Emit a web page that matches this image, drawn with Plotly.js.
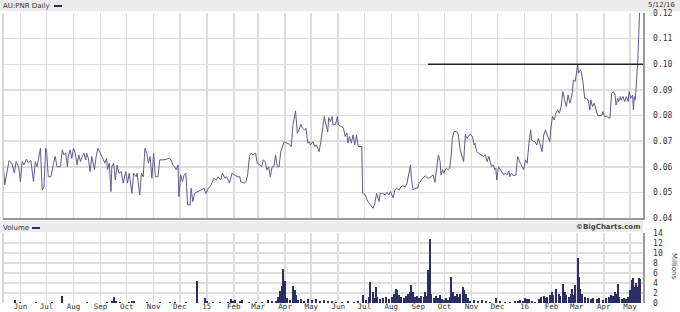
<!DOCTYPE html>
<html>
<head>
<meta charset="utf-8">
<script src="https://cdn.plot.ly/plotly-3.0.1.min.js"></script>
<style>
html,body{margin:0;padding:0;background:#fff;}
#chart{width:680px;height:312px;}
</style>
</head>
<body>
<div id="chart"></div>
<script>
// ---------------- DATA ----------------
const symbolTitle = "AU:PNR Daily";
const lastDateLabel = "5/12/16";
const volumeTitle = "Volume";
const creditText = "\u00A9BigCharts.com";
const volumeUnit = "Millions";

const priceDates = [
"2014-05-12","2014-05-14","2014-05-17","2014-05-19","2014-05-22","2014-05-25","2014-05-27","2014-05-30",
"2014-06-01","2014-06-03","2014-06-05","2014-06-08","2014-06-10","2014-06-13","2014-06-16","2014-06-18","2014-06-20","2014-06-24","2014-06-26","2014-06-28","2014-06-30",
"2014-07-01","2014-07-03","2014-07-06","2014-07-09","2014-07-11","2014-07-13","2014-07-15","2014-07-17","2014-07-19","2014-07-21","2014-07-23","2014-07-25","2014-07-26","2014-07-28","2014-07-30",
"2014-08-01","2014-08-03","2014-08-05","2014-08-07","2014-08-09","2014-08-11","2014-08-13","2014-08-15","2014-08-16","2014-08-18","2014-08-20","2014-08-22","2014-08-25","2014-08-27","2014-08-29","2014-08-31",
"2014-09-02","2014-09-04","2014-09-06","2014-09-08","2014-09-09","2014-09-11","2014-09-13","2014-09-14","2014-09-16","2014-09-18","2014-09-20","2014-09-22","2014-09-25","2014-09-27","2014-09-30",
"2014-10-02","2014-10-04","2014-10-07","2014-10-09","2014-10-12","2014-10-13","2014-10-16","2014-10-18","2014-10-20","2014-10-22","2014-10-24","2014-10-26","2014-10-28","2014-10-30",
"2014-11-01","2014-11-03","2014-11-06","2014-11-08","2014-11-13","2014-11-19","2014-11-21","2014-11-23","2014-11-25","2014-11-27","2014-11-29","2014-11-30",
"2014-12-02","2014-12-04","2014-12-06","2014-12-08","2014-12-10","2014-12-13","2014-12-14","2014-12-16","2014-12-18","2014-12-22","2014-12-25","2014-12-29","2014-12-31",
"2015-01-03","2015-01-06","2015-01-09","2015-01-12","2015-01-14","2015-01-17","2015-01-19","2015-01-22","2015-01-24","2015-01-27","2015-01-30",
"2015-02-02","2015-02-05","2015-02-08","2015-02-09","2015-02-13","2015-02-15","2015-02-17","2015-02-19","2015-02-21","2015-02-23","2015-02-26","2015-02-28",
"2015-03-03","2015-03-05","2015-03-07","2015-03-09","2015-03-11","2015-03-13","2015-03-15","2015-03-17","2015-03-19","2015-03-21","2015-03-23","2015-03-25","2015-03-27","2015-03-29","2015-03-31",
"2015-04-03","2015-04-06","2015-04-08","2015-04-10","2015-04-13","2015-04-15","2015-04-17","2015-04-19","2015-04-21","2015-04-23","2015-04-25","2015-04-27","2015-04-29","2015-04-30",
"2015-05-03","2015-05-05","2015-05-07","2015-05-09","2015-05-10","2015-05-12","2015-05-14","2015-05-16","2015-05-18","2015-05-20","2015-05-21","2015-05-23","2015-05-25","2015-05-26","2015-05-29","2015-05-31",
"2015-06-01","2015-06-03","2015-06-05","2015-06-07","2015-06-09","2015-06-11","2015-06-12","2015-06-14","2015-06-16","2015-06-18","2015-06-20","2015-06-22","2015-06-24","2015-06-26","2015-06-28","2015-06-29",
"2015-07-02","2015-07-05","2015-07-08","2015-07-11","2015-07-13","2015-07-15","2015-07-18","2015-07-19","2015-07-22","2015-07-25","2015-07-27","2015-07-29","2015-07-31",
"2015-08-03","2015-08-05","2015-08-07","2015-08-10","2015-08-12","2015-08-14","2015-08-17","2015-08-19","2015-08-21","2015-08-23","2015-08-24","2015-08-26","2015-08-28","2015-08-31",
"2015-09-02","2015-09-04","2015-09-06","2015-09-09","2015-09-11","2015-09-13","2015-09-16","2015-09-18","2015-09-20","2015-09-22","2015-09-24","2015-09-26","2015-09-27","2015-09-29","2015-09-30",
"2015-10-03","2015-10-05","2015-10-07","2015-10-09","2015-10-10","2015-10-12","2015-10-15","2015-10-17","2015-10-19","2015-10-21","2015-10-23","2015-10-25","2015-10-27","2015-10-29","2015-10-31",
"2015-11-02","2015-11-04","2015-11-05","2015-11-07","2015-11-09","2015-11-12","2015-11-15","2015-11-17","2015-11-19","2015-11-21","2015-11-23","2015-11-24","2015-11-26","2015-11-28","2015-11-29","2015-11-30",
"2015-12-02","2015-12-04","2015-12-06","2015-12-08","2015-12-10","2015-12-12","2015-12-14","2015-12-15","2015-12-17","2015-12-19","2015-12-22","2015-12-24","2015-12-27","2015-12-29","2015-12-31",
"2016-01-02","2016-01-04","2016-01-06","2016-01-08","2016-01-09","2016-01-11","2016-01-13","2016-01-15","2016-01-17","2016-01-19","2016-01-21","2016-01-23","2016-01-25","2016-01-27","2016-01-29","2016-01-30","2016-01-31",
"2016-02-02","2016-02-04","2016-02-06","2016-02-08","2016-02-10","2016-02-12","2016-02-14","2016-02-16","2016-02-18","2016-02-20","2016-02-22","2016-02-23","2016-02-25","2016-02-26","2016-02-28","2016-02-29",
"2016-03-02","2016-03-03","2016-03-05","2016-03-06","2016-03-08","2016-03-10","2016-03-12","2016-03-14","2016-03-16","2016-03-17","2016-03-19","2016-03-21","2016-03-23","2016-03-25","2016-03-28","2016-03-30","2016-03-31",
"2016-04-02","2016-04-04","2016-04-07","2016-04-08","2016-04-10","2016-04-12","2016-04-14","2016-04-15","2016-04-17","2016-04-18","2016-04-20","2016-04-21","2016-04-23","2016-04-25","2016-04-27","2016-04-29","2016-04-30",
"2016-05-02","2016-05-04","2016-05-05","2016-05-06","2016-05-07","2016-05-08","2016-05-09","2016-05-10","2016-05-11","2016-05-12"
];
const priceValues = [
0.062,0.0529,0.0588,0.0624,0.0615,0.0576,0.062,0.060,
0.0542,0.062,0.0607,0.063,0.0615,0.0624,0.0542,0.062,0.060,0.0672,0.0509,0.0522,0.0672,
0.0666,0.0561,0.0561,0.0614,0.064,0.060,0.060,0.060,0.0666,0.0646,0.0653,0.060,0.064,0.0666,0.0633,
0.0672,0.0653,0.0607,0.0646,0.062,0.064,0.0653,0.0627,0.0653,0.0633,0.0581,0.064,0.0588,0.064,0.0672,0.0659,
0.0646,0.0627,0.0614,0.0633,0.0588,0.0614,0.0503,0.060,0.0614,0.0548,0.0607,0.0575,0.0581,0.0536,0.0581,
0.0536,0.0575,0.0496,0.0575,0.0561,0.0575,0.049,0.0575,0.0561,0.0672,0.0653,0.0614,0.064,0.0555,
0.0653,0.0561,0.0561,0.0627,0.0627,0.0633,0.0627,0.0607,0.060,0.0588,0.0607,0.0483,
0.0568,0.0542,0.0568,0.0575,0.0451,0.0451,0.0516,0.0464,0.0496,0.0503,0.0509,0.0516,0.0496,
0.0516,0.0529,0.0555,0.0548,0.0561,0.0548,0.0575,0.0555,0.0561,0.0536,0.0575,
0.0568,0.0561,0.0561,0.0542,0.0536,0.0542,0.0568,0.064,0.0653,0.0646,0.0653,0.0614,
0.0607,0.060,0.0627,0.062,0.0588,0.060,0.0561,0.060,0.060,0.0646,0.060,0.060,0.0659,0.0679,0.0698,
0.0692,0.0688,0.0679,0.0763,0.0818,0.0731,0.0744,0.0766,0.075,0.0744,0.075,0.0692,0.0698,0.0685,
0.0698,0.0679,0.0685,0.0666,0.0659,0.0698,0.075,0.0796,0.0763,0.0737,0.0792,0.0776,0.0796,0.0763,0.0766,0.0796,
0.0763,0.0761,0.0757,0.075,0.0718,0.0731,0.0692,0.0718,0.0692,0.0724,0.0685,0.0724,0.0679,0.0679,0.0679,0.0496,
0.049,0.0464,0.0451,0.0438,0.0457,0.0496,0.0464,0.0496,0.0496,0.049,0.050,0.049,0.0503,
0.0479,0.0509,0.0516,0.0509,0.0522,0.0526,0.0522,0.0536,0.0568,0.0607,0.0555,0.0509,0.0516,0.0516,
0.0536,0.0548,0.0555,0.0565,0.0557,0.0555,0.0561,0.0568,0.0539,0.0594,0.0646,0.062,0.0568,0.0588,0.0575,
0.0594,0.0588,0.0594,0.0653,0.0711,0.0737,0.0737,0.0724,0.0666,0.0646,0.062,0.0727,0.0711,0.0722,0.0727,
0.0718,0.0685,0.0692,0.0659,0.0653,0.0646,0.064,0.0646,0.062,0.064,0.0607,0.060,0.0607,0.0588,0.0594,0.0548,
0.060,0.0588,0.0581,0.0568,0.0575,0.0568,0.0584,0.0561,0.0575,0.0565,0.0568,0.064,0.0614,0.060,0.0588,
0.0627,0.0614,0.0692,0.0744,0.0705,0.0698,0.0698,0.0685,0.0711,0.0685,0.0659,0.0724,0.0744,0.0724,0.0705,0.0698,0.0744,
0.0796,0.0783,0.0809,0.0822,0.0809,0.0835,0.0893,0.0861,0.0835,0.088,0.0848,0.0861,0.0893,0.0939,0.0932,0.0952,
0.0998,0.0965,0.0978,0.0972,0.0932,0.0867,0.0867,0.0861,0.0822,0.0861,0.0835,0.0848,0.0822,0.080,0.080,0.0802,0.0815,
0.0796,0.0796,0.0789,0.0789,0.0887,0.0893,0.088,0.0841,0.0867,0.0854,0.0874,0.0861,0.0874,0.0854,0.0874,0.0854,0.0893,
0.0867,0.088,0.0822,0.0874,0.0861,0.090,0.0952,0.1016,0.1107,0.12
];

const volDates = [
"2014-05-26","2014-05-31","2014-06-19","2014-07-07","2014-07-19","2014-07-30","2014-08-16","2014-09-08","2014-09-14","2014-09-17","2014-09-19","2014-09-23",
"2014-10-04","2014-10-07","2014-10-10","2014-10-24","2014-11-08","2014-11-20","2014-11-26","2014-12-08","2014-12-21","2014-12-30",
"2015-01-01","2015-01-08","2015-01-16","2015-01-25","2015-01-29","2015-01-31","2015-02-03","2015-02-08","2015-02-11","2015-02-19","2015-02-26",
"2015-03-05","2015-03-12","2015-03-17","2015-03-21","2015-03-24","2015-03-26","2015-03-28","2015-03-30","2015-04-01","2015-04-03","2015-04-07","2015-04-10","2015-04-12","2015-04-14","2015-04-16","2015-04-19","2015-04-23","2015-04-27",
"2015-05-02","2015-05-07","2015-05-11","2015-05-16","2015-05-20","2015-05-25","2015-05-29","2015-06-05","2015-06-12","2015-06-19","2015-06-24","2015-06-29",
"2015-07-03","2015-07-06","2015-07-08","2015-07-11","2015-07-13","2015-07-14","2015-07-16","2015-07-19","2015-07-22","2015-07-26","2015-07-29",
"2015-08-02","2015-08-04","2015-08-06","2015-08-08","2015-08-10","2015-08-12","2015-08-16","2015-08-18","2015-08-20","2015-08-22","2015-08-24","2015-08-26","2015-08-28","2015-08-31",
"2015-09-02","2015-09-04","2015-09-07","2015-09-09","2015-09-10","2015-09-12","2015-09-14","2015-09-16","2015-09-19","2015-09-21","2015-09-24","2015-09-26","2015-09-28","2015-09-30",
"2015-10-03","2015-10-05","2015-10-07","2015-10-08","2015-10-11","2015-10-13","2015-10-15","2015-10-17","2015-10-19","2015-10-22","2015-10-23","2015-10-26","2015-10-28","2015-10-30",
"2015-11-04","2015-11-09","2015-11-13","2015-11-18","2015-11-22","2015-11-29","2015-12-04","2015-12-10","2015-12-15","2015-12-21","2015-12-25","2015-12-27","2015-12-30",
"2016-01-02","2016-01-04","2016-01-06","2016-01-10","2016-01-13","2016-01-17","2016-01-20","2016-01-23","2016-01-25","2016-01-27","2016-01-30",
"2016-02-02","2016-02-03","2016-02-06","2016-02-09","2016-02-11","2016-02-14","2016-02-16","2016-02-18","2016-02-21","2016-02-23","2016-02-25","2016-02-26","2016-02-28",
"2016-03-02","2016-03-03","2016-03-05","2016-03-07","2016-03-10","2016-03-14","2016-03-17","2016-03-20","2016-03-24","2016-03-27","2016-03-31",
"2016-04-03","2016-04-07","2016-04-09","2016-04-11","2016-04-14","2016-04-16","2016-04-17","2016-04-19","2016-04-22","2016-04-24","2016-04-26","2016-04-29",
"2016-05-01","2016-05-03","2016-05-04","2016-05-05","2016-05-06","2016-05-08","2016-05-09","2016-05-11","2016-05-12"
];
const volValues = [
0.55,0.2,0.15,0.2,1.4,0.1,0.15,0.2,0.5,1.3,0.5,0.3,
0.3,0.4,0.4,0.2,0.15,0.3,0.2,0.2,4.5,1.0,
0.5,0.3,0.2,0.3,0.9,0.5,0.6,0.4,0.6,0.3,0.2,
0.3,0.7,0.4,0.5,1.2,2.4,3.5,6.8,4.4,1.0,0.6,3.4,2.7,1.7,0.6,0.8,0.5,0.8,
0.6,0.8,0.5,0.6,0.4,0.5,0.3,0.3,0.5,0.3,0.4,1.6,
0.6,1.2,4.3,2.2,1.0,3.3,1.2,0.8,1.1,1.3,0.9,
1.3,1.8,2.9,2.6,1.6,1.2,1.0,1.4,1.8,2.2,3.6,2.2,1.2,1.4,
1.0,1.5,1.2,2.2,1.5,6.7,12.8,1.9,1.0,1.4,1.0,1.6,0.8,0.7,
1.0,0.6,1.3,5.3,2.2,1.4,1.9,1.2,1.9,3.3,2.6,1.8,1.0,0.5,
0.6,0.5,0.7,0.4,0.3,1.1,0.4,0.2,0.3,0.4,0.5,0.6,0.4,
1.0,0.8,0.9,0.5,0.3,0.9,1.2,1.5,1.0,1.2,1.6,
2.2,1.6,2.9,1.9,1.4,3.9,2.2,1.6,1.2,1.8,2.9,1.6,3.6,
9.0,5.3,2.9,1.9,1.2,1.0,0.8,1.1,0.8,1.0,0.7,
1.0,1.2,1.6,1.4,2.2,1.8,3.9,1.2,0.8,1.0,0.9,1.2,
2.6,4.6,3.0,5.0,3.3,4.1,3.3,5.0,4.8
];

const monthTickDates = ["2014-06-01","2014-07-01","2014-08-01","2014-09-01","2014-10-01","2014-11-01","2014-12-01",
"2015-01-01","2015-02-01","2015-03-01","2015-04-01","2015-05-01","2015-06-01","2015-07-01","2015-08-01","2015-09-01","2015-10-01","2015-11-01","2015-12-01",
"2016-01-01","2016-02-01","2016-03-01","2016-04-01","2016-05-01"];
const monthTickLabels = ["Jun","Jul","Aug","Sep","Oct","Nov","Dec","15","Feb","Mar","Apr","May","Jun","Jul","Aug","Sep","Oct","Nov","Dec","16","Feb","Mar","Apr","May"];
const priceTickValues = [0.04,0.05,0.06,0.07,0.08,0.09,0.10,0.11,0.12];
const priceTickLabels = ["0.04","0.05","0.06","0.07","0.08","0.09","0.10","0.11","0.12"];
const volTickValues = [0,2,4,6,8,10,12,14];
const volTickLabels = ["0","2","4","6","8","10","12","14"];
const resistanceLevel = 0.10;
const resistanceStart = "2015-09-12";
const xRange = ["2014-05-12","2016-05-16"];

// ---------------- LAYOUT ----------------
const W = 680, H = 312;
const mL = 3, mR = 37, mT = 13, mB = 9;
const pw = W - mL - mR, ph = H - mT - mB;
const px = p => (p - mL) / pw;          // pixel x -> paper
const py = p => (H - mB - p) / ph;      // pixel y -> paper

const tickFont = {family: "DejaVu Sans Mono, monospace", size: 8, color: "#333"};
const xTickFont = {family: "DejaVu Sans Mono, monospace", size: 7.5, color: "#333"};
const gridCol = "#dddddd";

const traces = [
  {x: priceDates, y: priceValues, type: "scatter", mode: "lines",
   line: {color: "#5c5c8e", width: 1}, xaxis: "x", yaxis: "y", hoverinfo: "skip"},
  {x: volDates, y: volValues, type: "bar", marker: {color: "#2c2c66", line: {width: 0}},
   width: 2.3 * 86400000, xaxis: "x2", yaxis: "y2", hoverinfo: "skip"}
];

const layout = {
  width: W, height: H,
  margin: {l: mL, r: mR, t: mT, b: mB, pad: 0},
  paper_bgcolor: "#ffffff", plot_bgcolor: "#ffffff",
  showlegend: false,
  bargap: 0,
  xaxis: {type: "date", range: xRange, domain: [0, 1], anchor: "y",
    tickmode: "array", tickvals: monthTickDates, ticktext: monthTickLabels,
    showticklabels: false, ticks: "", showgrid: true, gridcolor: gridCol, gridwidth: 1.5,
    showline: true, linecolor: "#999", linewidth: 1.5, zeroline: false, fixedrange: true},
  yaxis: {domain: [py(218), 1], anchor: "x", side: "right", range: [0.04, 0.12],
    tickmode: "array", tickvals: priceTickValues, ticktext: priceTickLabels,
    tickfont: tickFont, ticks: "outside", ticklen: 7, tickcolor: "rgba(0,0,0,0)",
    showgrid: true, gridcolor: gridCol, gridwidth: 1.5, zeroline: false,
    showline: true, linecolor: "#999", linewidth: 1.5, fixedrange: true},
  xaxis2: {type: "date", range: xRange, domain: [0, 1], anchor: "y2", matches: "x",
    tickmode: "array", tickvals: monthTickDates, ticktext: monthTickLabels,
    tickfont: xTickFont, ticks: "", ticklabelstandoff: -3, showgrid: true, gridcolor: gridCol, gridwidth: 1.5,
    showline: false, zeroline: false, fixedrange: true},
  yaxis2: {domain: [0, py(233)], anchor: "x2", side: "right", range: [0, 14],
    tickmode: "array", tickvals: volTickValues, ticktext: volTickLabels,
    tickfont: tickFont, ticks: "outside", ticklen: 7, tickcolor: "rgba(0,0,0,0)",
    showgrid: true, gridcolor: gridCol, gridwidth: 1.5, zeroline: false,
    showline: true, linecolor: "#999", linewidth: 1.5, fixedrange: true},
  shapes: [
    {type: "rect", xref: "paper", yref: "paper", x0: px(0), x1: px(680), y0: py(11), y1: py(0),
     fillcolor: "#ececec", line: {width: 0}, layer: "below"},
    {type: "rect", xref: "paper", yref: "paper", x0: px(0), x1: px(643), y0: py(232), y1: py(221),
     fillcolor: "#ececec", line: {width: 0}, layer: "below"},
    {type: "line", xref: "paper", yref: "paper", x0: 0, x1: 0, y0: py(218), y1: 1,
     line: {color: "#cccccc", width: 1.5}},
    {type: "line", xref: "paper", yref: "paper", x0: 0, x1: 0, y0: 0, y1: py(233),
     line: {color: "#cccccc", width: 1.5}},
    {type: "line", xref: "x", yref: "y", x0: resistanceStart, x1: xRange[1],
     y0: resistanceLevel, y1: resistanceLevel, line: {color: "#222222", width: 1.5}},
    {type: "line", xref: "paper", yref: "paper", x0: px(54), x1: px(62), y0: py(6), y1: py(6),
     line: {color: "#2c2c66", width: 2}},
    {type: "line", xref: "paper", yref: "paper", x0: px(32), x1: px(40), y0: py(228), y1: py(228),
     line: {color: "#2c2c66", width: 2}}
  ],
  annotations: [
    {text: symbolTitle, xref: "paper", yref: "paper", x: px(1), y: py(6), xanchor: "left", yanchor: "middle",
     showarrow: false, font: {family: "DejaVu Sans", size: 7, color: "#333"}},
    {text: lastDateLabel, xref: "paper", yref: "paper", x: px(678), y: py(5), xanchor: "right", yanchor: "middle",
     showarrow: false, font: {family: "DejaVu Sans", size: 7, color: "#333"}},
    {text: volumeTitle, xref: "paper", yref: "paper", x: px(1), y: py(228), xanchor: "left", yanchor: "middle",
     showarrow: false, font: {family: "DejaVu Sans", size: 7, color: "#333"}},
    {text: creditText, xref: "paper", yref: "paper", x: px(642), y: py(227), xanchor: "right", yanchor: "middle",
     showarrow: false, font: {family: "DejaVu Sans", size: 7, color: "#444", weight: "bold"}},
    {text: volumeUnit, xref: "paper", yref: "paper", x: px(674), y: py(266), xanchor: "center", yanchor: "middle",
     textangle: 90, showarrow: false, font: {family: "DejaVu Sans", size: 7, color: "#333"}}
  ]
};

Plotly.newPlot("chart", traces, layout, {staticPlot: true, displayModeBar: false});
</script>
</body>
</html>
